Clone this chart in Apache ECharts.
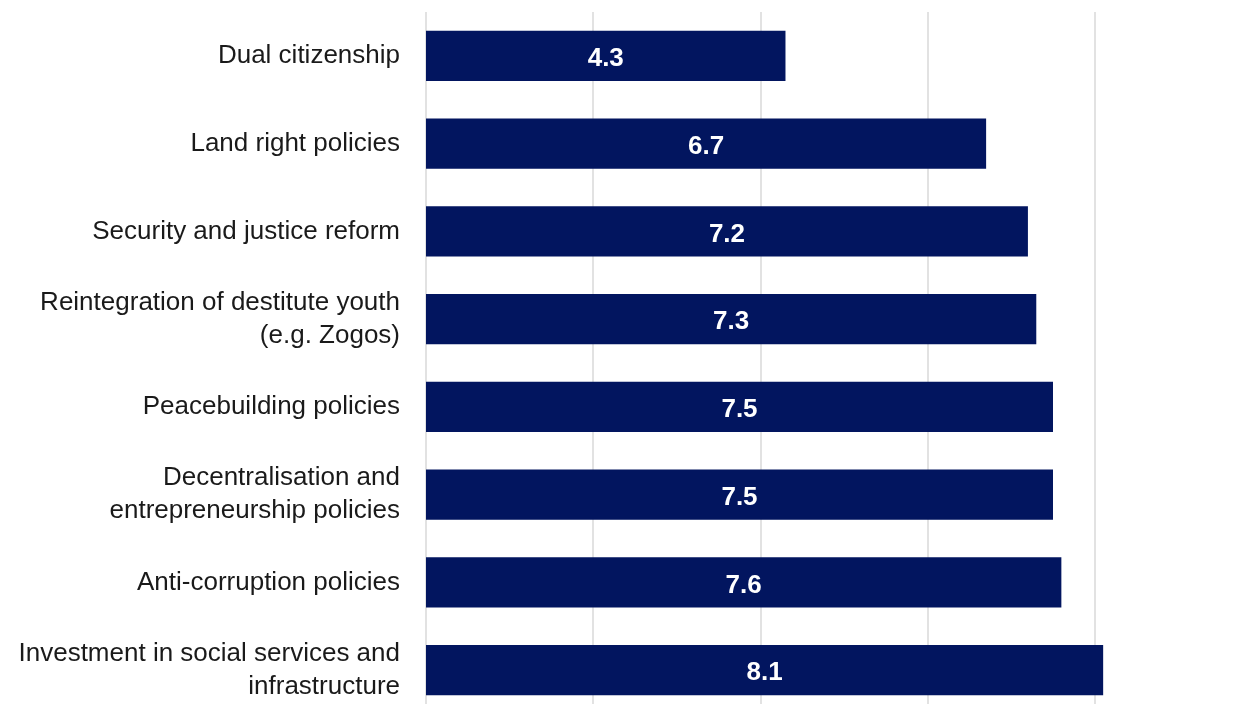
<!DOCTYPE html>
<html>
<head>
<meta charset="utf-8">
<script src="https://cdn.jsdelivr.net/npm/echarts@6/dist/echarts.min.js"></script>
<style>
  html, body { margin: 0; padding: 0; background: #fff; overflow: hidden; }
  #container { width: 1280px; height: 720px; }
</style>
</head>
<body>
<div id="container"></div>
<script>
var categories = [
  'Dual citizenship',
  'Land right policies',
  'Security and justice reform',
  'Reintegration of destitute youth\n(e.g. Zogos)',
  'Peacebuilding policies',
  'Decentralisation and\nentrepreneurship policies',
  'Anti-corruption policies',
  'Investment in social services and\ninfrastructure'
];
var scores = [4.3, 6.7, 7.2, 7.3, 7.5, 7.5, 7.6, 8.1];

var dom = document.getElementById('container');
var myChart = echarts.init(dom, null, { renderer: 'canvas' });

// the chart runs past the right and bottom edges of the 1260x704 view
var option = {
  backgroundColor: '#ffffff',
  animation: false,
  grid: {
    left: 426,
    width: 836,
    top: 12,
    height: 702,
    containLabel: false
  },
  xAxis: {
    type: 'value',
    min: 0,
    max: 10,
    interval: 2,
    axisLabel: { show: false },
    axisLine: { show: false },
    axisTick: { show: false },
    splitLine: { show: true, showMaxLine: false, lineStyle: { color: '#d9d9d9', width: 1.5 } }
  },
  yAxis: {
    type: 'category',
    data: categories,
    inverse: true,
    axisLine: { show: false },
    axisTick: { show: false },
    axisLabel: {
      margin: 26,
      color: '#1a1a1a',
      fontFamily: 'Liberation Sans, Arial, sans-serif',
      fontSize: 26,
      lineHeight: 33,
      align: 'right',
      padding: [5, 0, 0, 0]
    }
  },
  series: [{
    type: 'bar',
    data: scores,
    barWidth: '57%',
    itemStyle: { color: '#02155f' },
    label: {
      show: true,
      position: 'inside',
      offset: [0, 3],
      color: '#ffffff',
      fontWeight: 'bold',
      fontFamily: 'Liberation Sans, Arial, sans-serif',
      fontSize: 26,
      formatter: function (p) { return p.value.toFixed(1); }
    }
  }]
};

myChart.setOption(option);
window.addEventListener('resize', myChart.resize);
</script>
</body>
</html>
